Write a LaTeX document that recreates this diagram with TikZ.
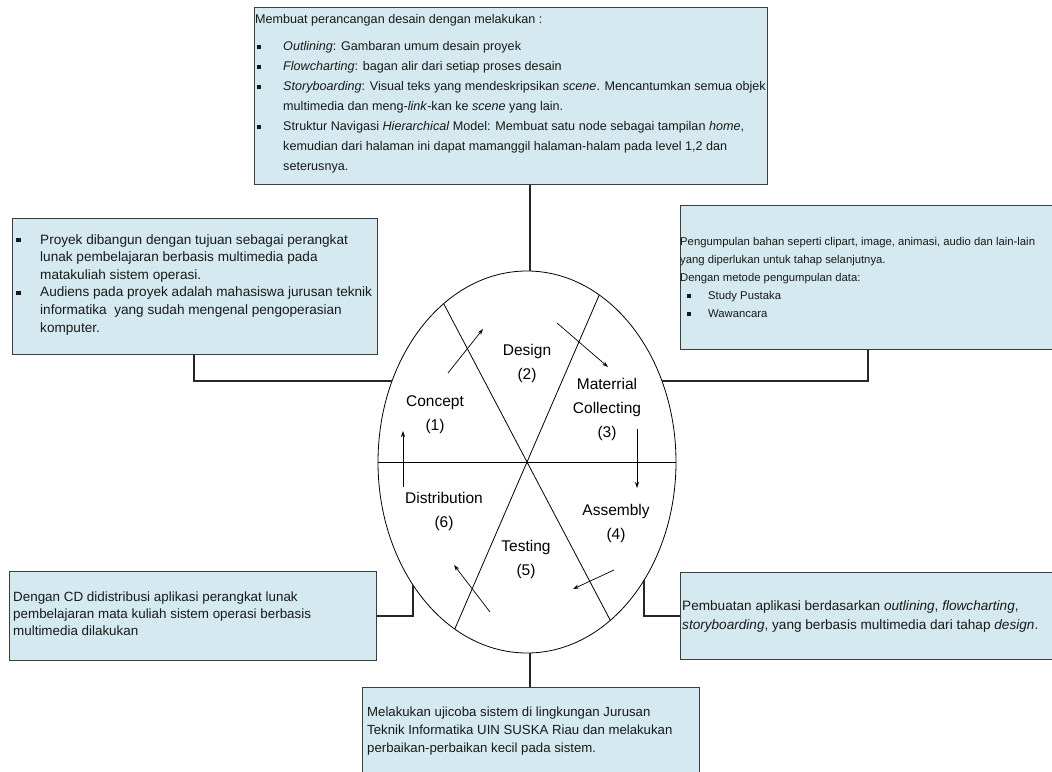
\documentclass[tikz,border=0pt]{standalone}
\usepackage{fontspec}
\setmainfont{Liberation Sans}
\usetikzlibrary{arrows.meta}

\definecolor{boxfill}{RGB}{212,234,240}
\definecolor{boxline}{RGB}{60,60,60}
\newcommand\bsq{\rule[0.12em]{0.34em}{0.34em}}

\tikzset{
  infobox/.style={draw=boxline, fill=boxfill, line width=1.1pt, inner sep=0pt, anchor=north west},
  infotext/.style={inner sep=0pt, anchor=north west, align=left, text=black!90},
  phase/.style={align=center, inner sep=0pt, font=\fontsize{15.5}{24}\selectfont},
  conn/.style={line width=1.4pt, black!85},
  flow/.style={line width=0.7pt, -{Stealth[length=6pt,width=4pt]}},
  wheel/.style={line width=0.8pt},
}

\begin{document}
\begin{tikzpicture}[x=1pt, y=-1pt]
\path[use as bounding box] (0,0) rectangle (1052,771);
\clip (0,0) rectangle (1052,771);

% ---------- the six-phase wheel ----------
\draw[wheel] (527,462) ellipse [x radius=149pt, y radius=191pt];
\draw[wheel] (378,462) -- (676,462);
\draw[wheel] ({527+149*cos(124)},{462-191*sin(124)}) -- ({527+149*cos(-56)},{462-191*sin(-56)});
\draw[wheel] ({527+149*cos(61)},{462-191*sin(61)}) -- ({527+149*cos(241)},{462-191*sin(241)});

\node[phase] (concept) at (435,415) {Concept\\(1)};
\node[phase] (design) at (527,363) {Design\\(2)};
\node[phase] (material) at (607,409) {Materrial\\Collecting\\(3)};
\node[phase] (assembly) at (616,523) {Assembly\\(4)};
\node[phase] (testing) at (526,559) {Testing\\(5)};
\node[phase] (distribution) at (444,511) {Distribution\\(6)};

% flow arrows between the phases
\coordinate (a1s) at (448,373); \coordinate (a1e) at (483,329);
\coordinate (a2s) at (557,323); \coordinate (a2e) at (608,367);
\coordinate (a3s) at (637,429); \coordinate (a3e) at (637,488);
\coordinate (a4s) at (614,570); \coordinate (a4e) at (573,589);
\coordinate (a5s) at (490,612); \coordinate (a5e) at (454,565);
\coordinate (a6s) at (403,487); \coordinate (a6e) at (403,431);
\draw[flow] (a1s) -- (a1e);
\draw[flow] (a2s) -- (a2e);
\draw[flow] (a3s) -- (a3e);
\draw[flow] (a4s) -- (a4e);
\draw[flow] (a5s) -- (a5e);
\draw[flow] (a6s) -- (a6e);

% points on the wheel where the description boxes attach
\coordinate (wtop) at (530,271);
\coordinate (wleft) at (392,381);
\coordinate (wright) at (662,381);
\coordinate (wbl) at (413,585);
\coordinate (wbr) at (644,580);
\coordinate (wbot) at (530,653);

% ---------- description boxes ----------
\node[infobox, minimum width=513pt, minimum height=177pt] (designbox) at (254,7) {};
\node[infobox, minimum width=365pt, minimum height=136pt] (conceptbox) at (12,218) {};
\node[infobox, minimum width=400pt, minimum height=144pt] (materialbox) at (680,205) {};
\node[infobox, minimum width=367pt, minimum height=89pt] (distbox) at (9,571) {};
\node[infobox, minimum width=400pt, minimum height=87pt] (assemblybox) at (680,572) {};
\node[infobox, minimum width=337pt, minimum height=110pt] (testbox) at (362,687) {};

\node[infotext, font=\fontsize{12.6}{20}\selectfont] (designtext) at (255,14.5) {%
Membuat perancangan desain dengan melakukan :\\[6.5pt]
\makebox[28pt][l]{\hspace{2pt}\bsq}\textit{Outlining}: Gambaran umum desain proyek\\
\makebox[28pt][l]{\hspace{2pt}\bsq}\textit{Flowcharting}: bagan alir dari setiap proses desain\\
\makebox[28pt][l]{\hspace{2pt}\bsq}\textit{Storyboarding}: Visual teks yang mendeskripsikan \textit{scene}. Mencantumkan semua objek\\
\hspace*{28pt}multimedia dan meng-\textit{link}-kan ke \textit{scene} yang lain.\\
\makebox[28pt][l]{\hspace{2pt}\bsq}Struktur Navigasi \textit{Hierarchical} Model: Membuat satu node sebagai tampilan \textit{home},\\
\hspace*{28pt}kemudian dari halaman ini dapat mamanggil halaman-halam pada level 1,2 dan\\
\hspace*{28pt}seterusnya.};

\node[infotext, font=\fontsize{13.6}{17.6}\selectfont] (concepttext) at (16,234) {%
\makebox[24pt][l]{\bsq}Proyek dibangun dengan tujuan sebagai perangkat\\
\hspace*{24pt}lunak pembelajaran berbasis multimedia pada\\
\hspace*{24pt}matakuliah sistem operasi.\\
\makebox[24pt][l]{\bsq}Audiens pada proyek adalah mahasiswa jurusan teknik\\
\hspace*{24pt}informatika\ \ yang sudah mengenal pengoperasian\\
\hspace*{24pt}komputer.};

\node[infotext, font=\fontsize{11.3}{18}\selectfont] (materialtext) at (680,237) {%
Pengumpulan bahan seperti clipart, image, animasi, audio dan lain-lain\\
yang diperlukan untuk tahap selanjutnya.\\
Dengan metode pengumpulan data:\\
\makebox[28pt][l]{\hspace{7pt}\bsq}Study Pustaka\\
\makebox[28pt][l]{\hspace{7pt}\bsq}Wawancara};

\node[infotext, font=\fontsize{13.4}{17}\selectfont] (disttext) at (13,592) {%
Dengan CD didistribusi aplikasi perangkat lunak\\
pembelajaran mata kuliah sistem operasi berbasis\\
multimedia dilakukan};

\node[infotext, font=\fontsize{13.6}{19}\selectfont] (assemblytext) at (682,600) {%
Pembuatan aplikasi berdasarkan \textit{outlining}, \textit{flowcharting},\\
\textit{storyboarding}, yang berbasis multimedia dari tahap \textit{design}.};

\node[infotext, font=\fontsize{13.2}{18}\selectfont] (testtext) at (367,707) {%
Melakukan ujicoba sistem di lingkungan Jurusan\\
Teknik Informatika UIN SUSKA Riau dan melakukan\\
perbaikan-perbaikan kecil pada sistem.};

% ---------- connectors from boxes to the wheel ----------
\draw[conn] ([xshift=276pt]designbox.south west) -- (wtop);
\draw[conn] ([xshift=182pt]conceptbox.south west) |- (wleft);
\draw[conn] ([xshift=188pt]materialbox.south west) |- (wright);
\draw[conn] (distbox.east) -| (wbl);
\draw[conn] (assemblybox.west) -| (wbr);
\draw[conn] ([xshift=168pt]testbox.north west) -- (wbot);
\end{tikzpicture}
\end{document}
